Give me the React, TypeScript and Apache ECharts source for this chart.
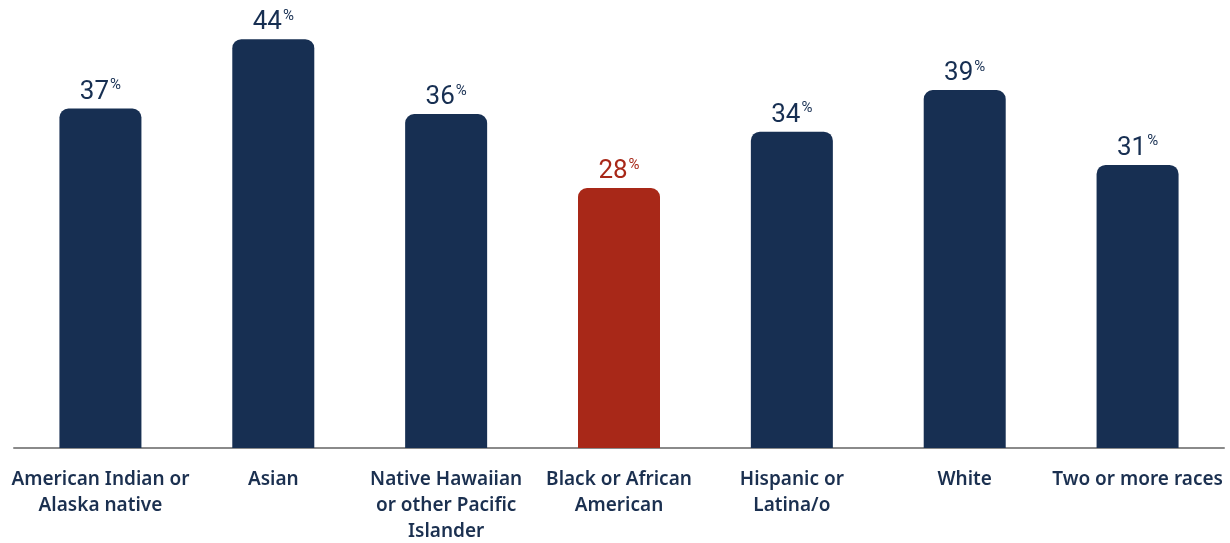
import React, { useEffect, useRef } from "react";
import * as echarts from "echarts";

const categories = [
  "American Indian or\nAlaska native",
  "Asian",
  "Native Hawaiian\nor other Pacific\nIslander",
  "Black or African\nAmerican",
  "Hispanic or\nLatina/o",
  "White",
  "Two or more races",
];
const values = [36.7, 44.2, 36.1, 28.1, 34.2, 38.7, 30.6];
const highlighted = [false, false, false, true, false, false, false];

const NAVY = "#172f52";
const RED = "#a82818";

export default function App() {
  const ref = useRef<HTMLDivElement>(null);
  useEffect(() => {
    const chart = echarts.init(ref.current!, undefined, { renderer: "svg" });
    chart.setOption({
      animation: false,
      grid: { left: 14, right: 6, top: 4, bottom: 90, containLabel: false },
      xAxis: {
        type: "category",
        data: categories,
        axisLine: { show: true, lineStyle: { color: "#8a8a8a", width: 2 } },
        axisTick: { show: false },
        axisLabel: {
          interval: 0,
          margin: 17,
          color: "#1b3050",
          fontFamily: "Noto Sans",
          fontWeight: 600,
          fontSize: 19,
          lineHeight: 26,
        },
      },
      yAxis: {
        type: "value",
        min: 0,
        max: 48,
        show: false,
        splitLine: { show: false },
      },
      series: [
        {
          type: "bar",
          barWidth: 82,
          data: values.map((v, i) => ({
            value: v,
            itemStyle: {
              color: highlighted[i] ? RED : NAVY,
              borderRadius: [9, 9, 0, 0],
            },
            label: {
              show: true,
              position: "top",
              distance: 6,
              formatter: () => `{a|${Math.round(v)}}{b|%}`,
              rich: {
                a: {
                  fontFamily: "Roboto",
                  fontSize: 26,
                  color: highlighted[i] ? RED : NAVY,
                },
                b: {
                  fontFamily: "Roboto",
                  fontSize: 15,
                  color: highlighted[i] ? RED : NAVY,
                  verticalAlign: "top",
                  padding: [0, 0, 9, 1],
                },
              },
            },
          })),
        },
      ],
    });
    return () => chart.dispose();
  }, []);
  return (
    <div
      ref={ref}
      style={{ position: "fixed", left: 0, top: 0, width: 1230, height: 543 }}
    />
  );
}
